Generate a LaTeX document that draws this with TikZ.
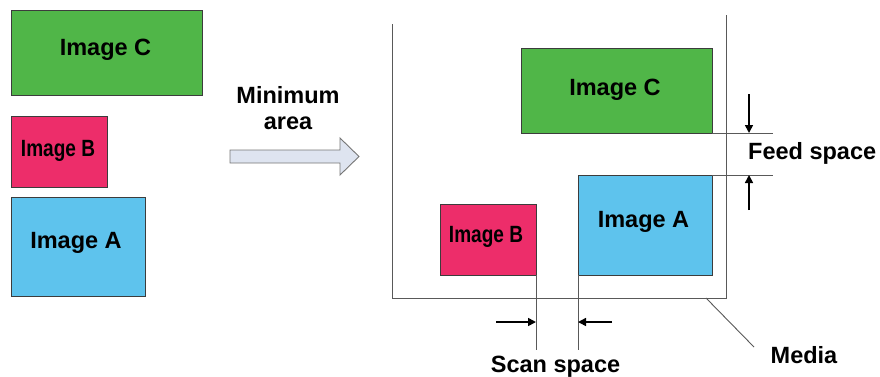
\documentclass[tikz,border=0pt]{standalone}
\usepackage{fontspec}
\setmainfont{Liberation Sans}
\usetikzlibrary{arrows.meta}
\definecolor{cgreen}{RGB}{80,182,72}
\definecolor{cpink}{RGB}{237,45,106}
\definecolor{cblue}{RGB}{94,195,237}
\definecolor{arrfill}{RGB}{222,228,240}
\definecolor{edge}{RGB}{60,60,60}
\begin{document}
\begin{tikzpicture}[x=1pt,y=-1pt,
  box/.style={draw=edge,line width=1pt},
  lbl/.style={font=\fontsize{23.5}{26}\selectfont\bfseries,inner sep=0pt,anchor=base},
  thin/.style={draw=edge!85,line width=0.9pt},
  dimarrow/.style={line width=1.6pt,-{Triangle[length=8pt,width=8pt]}}]
\useasboundingbox (0,0) rectangle (880,376);
% left: original images
\draw[box,fill=cgreen] (11,10) rectangle (202,95);
\node[lbl] (lc) at (105.5,55) {Image C};
\draw[box,fill=cpink] (11,116) rectangle (107,187);
\node[lbl] (lb) at (58,156) {\scalebox{0.81}[1]{Image B}};
\draw[box,fill=cblue] (11,197) rectangle (145,296);
\node[lbl] (la) at (76,248) {Image A};
% big arrow
\draw[draw=edge!70,fill=arrfill,line width=0.9pt]
  (230,150) -- (340,150) -- (340,138) -- (359,156.5) -- (340,175) -- (340,163) -- (230,163) -- cycle;
\node[lbl] (mina) at (288,103) {Minimum};
\node[lbl] (area) at (288,129) {area};
% media
\coordinate (m1) at (392,24);
\coordinate (m2) at (392,298);
\coordinate (m3) at (726,298);
\coordinate (m4) at (726,15);
\draw[thin] (m1) -- (m2) -- (m3) -- (m4);
% placed images
\draw[box,fill=cgreen] (521,48) rectangle (712,133);
\node[lbl] (rc) at (615,95) {Image C};
\draw[box,fill=cblue] (578,175) rectangle (712,275);
\node[lbl] (ra) at (643.5,227) {Image A};
\draw[box,fill=cpink] (440,204) rectangle (536,275);
\node[lbl] (rb) at (486,242) {\scalebox{0.81}[1]{Image B}};
% feed space
\coordinate (f1a) at (712,133); \coordinate (f1b) at (773,133);
\coordinate (f2a) at (712,175); \coordinate (f2b) at (773,175);
\draw[thin] (f1a) -- (f1b);
\draw[thin] (f2a) -- (f2b);
\coordinate (fd0) at (749,94); \coordinate (fd1) at (749,133);
\coordinate (fu0) at (749,210); \coordinate (fu1) at (749,175);
\draw[dimarrow] (fd0) -- (fd1);
\draw[dimarrow] (fu0) -- (fu1);
\node[lbl,anchor=base west] (feed) at (748,159) {Feed space};
% scan space
\coordinate (s1a) at (536,275); \coordinate (s1b) at (536,350);
\coordinate (s2a) at (578,275); \coordinate (s2b) at (578,350);
\draw[thin] (s1a) -- (s1b);
\draw[thin] (s2a) -- (s2b);
\coordinate (sl0) at (496,322); \coordinate (sl1) at (536,322);
\coordinate (sr0) at (612,322); \coordinate (sr1) at (578,322);
\draw[dimarrow] (sl0) -- (sl1);
\draw[dimarrow] (sr0) -- (sr1);
\node[lbl] (scan) at (555.5,372) {Scan space};
% media label
\node[lbl] (media) at (804,363) {Media};
\coordinate (ml0) at (706,298); \coordinate (ml1) at (754,347);
\draw[thin] (ml0) -- (ml1);
\end{tikzpicture}
\end{document}
